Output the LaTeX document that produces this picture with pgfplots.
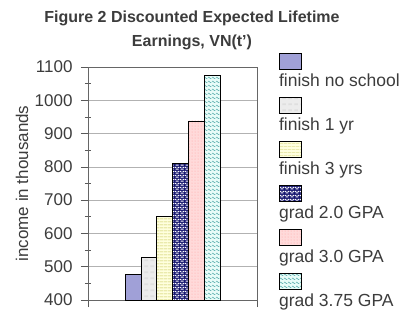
\documentclass[border=0pt]{standalone}
\usepackage{pgfplots}
\pgfplotsset{compat=1.18}
\usepackage{fontspec}
\setmainfont{Liberation Sans}
\usetikzlibrary{patterns}
\definecolor{lav}{RGB}{160,160,215}
\definecolor{navyb}{RGB}{20,20,110}
\definecolor{lpink}{RGB}{255,218,218}
\definecolor{lcyan}{RGB}{232,252,248}
\definecolor{lyel}{RGB}{255,255,222}
\definecolor{lgray}{RGB}{236,236,236}
\definecolor{txt}{RGB}{60,60,60}
\pgfdeclarepatternformonly{waves}{\pgfqpoint{0pt}{0pt}}{\pgfqpoint{4pt}{3.5pt}}{\pgfqpoint{4pt}{3.5pt}}{%
  \pgfsetlinewidth{0.45pt}%
  \pgfpathmoveto{\pgfqpoint{0pt}{1.2pt}}%
  \pgfpathcurveto{\pgfqpoint{1pt}{2.6pt}}{\pgfqpoint{1pt}{2.6pt}}{\pgfqpoint{2pt}{1.2pt}}%
  \pgfpathcurveto{\pgfqpoint{3pt}{-0.2pt}}{\pgfqpoint{3pt}{-0.2pt}}{\pgfqpoint{4pt}{1.2pt}}%
  \pgfusepath{stroke}}
\pgfdeclarepatternformonly{whitedashes}{\pgfqpoint{0pt}{0pt}}{\pgfqpoint{5pt}{4pt}}{\pgfqpoint{5pt}{4pt}}{%
  \pgfpathrectangle{\pgfqpoint{0.6pt}{0.6pt}}{\pgfqpoint{3.4pt}{1.2pt}}%
  \pgfpathrectangle{\pgfqpoint{0pt}{2.6pt}}{\pgfqpoint{1.5pt}{1.2pt}}%
  \pgfpathrectangle{\pgfqpoint{3.1pt}{2.6pt}}{\pgfqpoint{1.9pt}{1.2pt}}%
  \pgfusepath{fill}}
\pgfdeclarepatternformonly{hlines}{\pgfqpoint{0pt}{0pt}}{\pgfqpoint{4pt}{3pt}}{\pgfqpoint{4pt}{3pt}}{%
  \pgfsetlinewidth{0.4pt}%
  \pgfpathmoveto{\pgfqpoint{0pt}{1.5pt}}\pgfpathlineto{\pgfqpoint{4pt}{1.5pt}}%
  \pgfusepath{stroke}}
\pgfdeclarepatternformonly{blocks}{\pgfqpoint{0pt}{0pt}}{\pgfqpoint{6pt}{6pt}}{\pgfqpoint{6pt}{6pt}}{%
  \pgfpathrectangle{\pgfqpoint{0.5pt}{1pt}}{\pgfqpoint{4pt}{2pt}}%
  \pgfusepath{fill}}
\begin{document}
\begin{tikzpicture}
\path[use as bounding box] (0pt,0pt) rectangle (404pt,309pt);
\node[font=\bfseries\fontsize{16}{24}\selectfont, text=txt, align=center] at (192pt,279pt) {Figure 2 Discounted Expected Lifetime\\Earnings, VN(t')};
\begin{axis}[
  at={(88pt,9pt)}, anchor=south west,
  scale only axis, width=169pt, height=233pt,
  ybar=0pt, bar width=15.8pt,
  xmin=-1, xmax=1, ymin=400, ymax=1100,
  xtick={-1,1}, xticklabels={},
  ytick={400,500,...,1100}, minor ytick={450,550,...,1050},
  tick align=outside, xtick pos=lower, ytick pos=left,
  major tick length=7pt, minor tick length=6pt,
  tick style={gray!70!black, line width=0.6pt},
  every minor tick/.append style={xshift=3pt},
  ymajorgrids, major grid style={gray!60, line width=0.7pt},
  axis line style={gray!80!black, line width=0.8pt},
  /pgf/number format/assume math mode=true,
  /pgf/number format/1000 sep={},
  yticklabel style={font=\fontsize{17}{19}\selectfont, text=txt, xshift=-5pt},
  ylabel={income in thousands},
  ylabel style={font=\fontsize{17}{19}\selectfont, text=txt, at={(axis description cs:-0.39,0.5)}, anchor=center},
  legend style={draw=none, fill=none, at={(1.1,0.99)}, anchor=north west,
    font=\fontsize{17.5}{19}\selectfont, text=txt, row sep=25.8pt, column sep=0pt},
  legend cell align=left,
  legend image code/.code={\coordinate (legtmp) at (0pt,2pt); \draw[#1, overlay, line width=0.5pt] (2pt,11pt) rectangle (24pt,27pt);},
]
\addplot[draw=black, line width=0.5pt, fill=lav] coordinates {(0,476)};
\addlegendentry{finish no school}
\addplot[draw=black, line width=0.5pt, fill=lgray, postaction={pattern=blocks, pattern color=gray!25}] coordinates {(0,527)};
\addlegendentry{finish 1 yr}
\addplot[draw=black, line width=0.5pt, fill=lyel, postaction={pattern=hlines, pattern color=olive!45}] coordinates {(0,652)};
\addlegendentry{finish 3 yrs}
\addplot[draw=black, line width=0.5pt, fill=navyb, postaction={pattern=whitedashes, pattern color=white}] coordinates {(0,810)};
\addlegendentry{grad 2.0 GPA}
\addplot[draw=black, line width=0.5pt, fill=lpink, postaction={pattern=dots, pattern color=red!35}] coordinates {(0,938)};
\addlegendentry{grad 3.0 GPA}
\addplot[draw=black, line width=0.5pt, fill=lcyan, postaction={pattern=waves, pattern color=teal!70}] coordinates {(0,1074)};
\addlegendentry{grad 3.75 GPA}
\end{axis}
\end{tikzpicture}
\end{document}
